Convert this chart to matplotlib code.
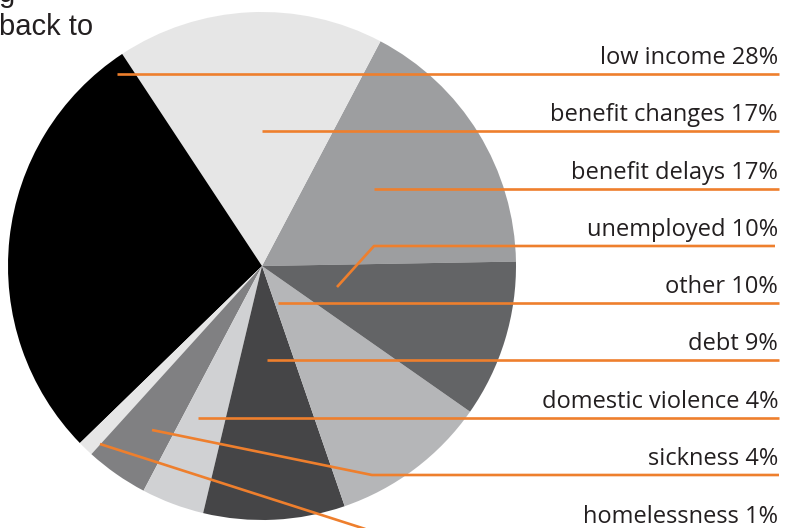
import matplotlib.pyplot as plt

# reasons for referral, listed counter-clockwise from the right
reasons = ["benefit delays", "benefit changes", "low income", "homelessness",
           "sickness", "domestic violence", "debt", "other", "unemployed"]
shares = [17, 17, 28, 1, 4, 4, 9, 10, 10]
greys = ["#9d9ea0", "#e6e6e6", "#000000", "#e6e6e6", "#808082",
         "#d0d1d3", "#454547", "#b5b6b8", "#636466"]

# label order top to bottom on the right
label_order = ["low income", "benefit changes", "benefit delays", "unemployed",
               "other", "debt", "domestic violence", "sickness", "homelessness"]

W, H = 796, 528
ORANGE = "#ee7f2d"
TXT = "#231f20"


def py(y):
    # pixel rows counted from the top
    return H - y


fig = plt.figure(figsize=(W / 100, H / 100), dpi=100)
ax = fig.add_axes([0, 0, 1, 1])

ax.pie(shares, colors=greys, startangle=1, counterclock=True,
       center=(262, py(266)), radius=254,
       wedgeprops=dict(linewidth=0))

# leader lines: (points from the slice out to the right edge), in pixels
leaders = {
    "low income": [(117, 74), (779, 74)],
    "benefit changes": [(262, 131), (779, 131)],
    "benefit delays": [(374, 189), (779, 189)],
    "unemployed": [(337, 287), (374, 246), (775, 246)],
    "other": [(278, 303), (779, 303)],
    "debt": [(267, 360), (779, 360)],
    "domestic violence": [(198, 418), (779, 418)],
    "sickness": [(152, 430), (372, 475), (779, 475)],
    "homelessness": [(100, 444), (384, 535), (779, 535)],
}
text_y = [64, 121, 179, 236, 293, 350, 408, 465, 523]

for name, ty in zip(label_order, text_y):
    pts = leaders[name]
    ax.plot([p[0] for p in pts], [py(p[1]) for p in pts],
            color=ORANGE, lw=1.9, solid_capstyle="butt", clip_on=False)
    pct = shares[reasons.index(name)]
    ax.text(778, py(ty), f"{name} {pct}%", ha="right", va="baseline",
            fontsize=17, family="Open Sans", color=TXT)

# tail of the paragraph above the chart
ax.text(-1, py(2), "g", ha="left", va="baseline", fontsize=21,
        family="Liberation Sans", color=TXT)
ax.text(-1, py(35), "back to", ha="left", va="baseline", fontsize=21,
        family="Liberation Sans", color=TXT)

ax.set_xlim(0, W)
ax.set_ylim(0, H)
ax.set_aspect("equal")
ax.axis("off")

fig.savefig("out.png", dpi=100)
